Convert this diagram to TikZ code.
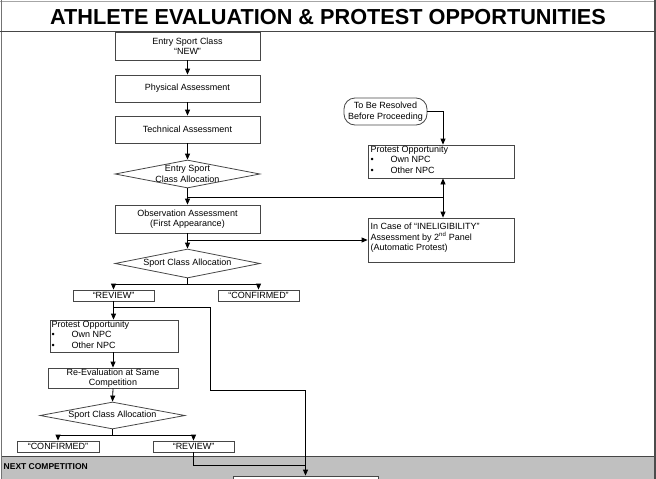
\documentclass[tikz,border=0pt]{standalone}
\usepackage{fontspec}
\setmainfont{Liberation Sans}
\usetikzlibrary{arrows.meta,shapes.geometric}
\definecolor{bandgray}{RGB}{192,192,192}
\definecolor{edge}{RGB}{70,70,70}
\begin{document}
\begin{tikzpicture}[x=1pt,y=-1pt,
  box/.style={draw=edge, line width=0.8pt, inner sep=1pt, align=center, font=\fontsize{9}{10.5}\selectfont},
  lbox/.style={draw=edge, line width=0.8pt, inner sep=0pt},
  dia/.style={diamond, draw=edge, line width=0.8pt, inner sep=0pt},
  txt/.style={inner sep=0pt, align=center, font=\fontsize{9}{11}\selectfont},
  ltxt/.style={inner sep=0pt, align=left, anchor=north west, font=\fontsize{9}{10.5}\selectfont},
  arr/.style={-{Triangle[length=6pt,width=5pt]}, line width=0.8pt},
  ln/.style={line width=0.8pt}
]
\useasboundingbox (0,0) rectangle (656,479);
\clip (0,0) rectangle (656,479);

% frame and title
\fill[bandgray] (1.5,456) rectangle (656,479);
\draw[edge, line width=0.8pt] (1.5,456) -- (656,456);
\draw[black!35, line width=1pt] (0,1.5) -- (656,1.5);
\draw[black!55, line width=0.8pt] (1.5,0) -- (1.5,479);
\draw[black!70, line width=2pt] (655,0) -- (655,479);
\draw[edge, line width=1pt] (0,31.5) -- (656,31.5);
\node[font=\bfseries\fontsize{21.7}{24}\selectfont, inner sep=0pt] (title) at (328,17) {ATHLETE EVALUATION \& PROTEST OPPORTUNITIES};
\node[font=\bfseries\fontsize{8.5}{10}\selectfont, inner sep=0pt, anchor=west] (nc) at (3.5,467) {NEXT COMPETITION};

% left column, first part
\node[box, minimum width=145pt, minimum height=28pt] (new) at (187.5,46) {Entry Sport Class\\“NEW”};
\node[box, minimum width=145pt, minimum height=27pt] (phys) at (187.5,88.5) {Physical Assessment};
\node[box, minimum width=145pt, minimum height=27pt] (tech) at (187.5,129.5) {Technical Assessment};
\node[dia, minimum width=145pt, minimum height=28pt] (d1) at (187.5,174) {};
\node[txt] (d1t) at (187.5,174) {Entry Sport\\Class Allocation};
\node[box, minimum width=145pt, minimum height=28pt] (obs) at (187.5,219) {Observation Assessment\\(First Appearance)};
\node[dia, minimum width=145pt, minimum height=29pt] (d2) at (187.5,263.5) {};
\node[txt] (d2t) at (187.5,263.5) {Sport Class Allocation};
\node[box, minimum width=81pt, minimum height=11pt, inner sep=0pt] (rev1) at (113.5,295.5) {“REVIEW”};
\node[box, minimum width=81pt, minimum height=11pt, inner sep=0pt] (conf1) at (258.5,295.5) {“CONFIRMED”};

% right column
\node[box, rounded corners=11pt, minimum width=83pt, minimum height=27pt, inner sep=0pt] (resolve) at (385.5,111.5) {To Be Resolved\\Before Proceeding};
\node[lbox, minimum width=146pt, minimum height=33pt] (po1) at (441,161.5) {};
\node[ltxt] (po1t) at (370.5,145.5) {Protest Opportunity\\\makebox[20pt][l]{\textbullet}Own NPC\\\makebox[20pt][l]{\textbullet}Other NPC};
\node[lbox, minimum width=146pt, minimum height=44pt] (inel) at (441,240) {};
\node[ltxt] (inelt) at (370.5,223) {In Case of “INELIGIBILITY”\\Assessment by 2\textsuperscript{nd} Panel\\(Automatic Protest)};

% left column, second part
\node[lbox, minimum width=128pt, minimum height=32pt] (po2) at (114,336) {};
\node[ltxt] (po2t) at (51.5,320.5) {Protest Opportunity\\\makebox[20pt][l]{\textbullet}Own NPC\\\makebox[20pt][l]{\textbullet}Other NPC};
\node[box, minimum width=130pt, minimum height=20pt, inner sep=0pt] (reeval) at (113,378) {Re-Evaluation at Same\\Competition};
\node[dia, minimum width=145pt, minimum height=27pt] (d3) at (112.5,415.5) {};
\node[txt] (d3t) at (112.5,415.5) {Sport Class Allocation};
\node[box, minimum width=82pt, minimum height=11pt, inner sep=0pt] (conf2) at (58,446.5) {“CONFIRMED”};
\node[box, minimum width=81pt, minimum height=11pt, inner sep=0pt] (rev2) at (193.5,446.5) {“REVIEW”};
\node[lbox, minimum width=145pt, minimum height=28pt, fill=white] (nextbox) at (305.5,490) {};

% junction coordinates
\coordinate (j1) at (187.5,197);
\coordinate (j2) at (443,197);
\coordinate (j3) at (187.5,240);
\coordinate (j4) at (187.5,284);
\coordinate (j5) at (113.5,307);
\coordinate (j6) at (210,307);
\coordinate (j7) at (210,390);
\coordinate (j8) at (305.5,390);
\coordinate (j9) at (305.5,465);
\coordinate (j10) at (112.5,435);

% connectors
\draw[arr] (new) -- (phys);
\draw[arr] (phys) -- (tech);
\draw[arr] (tech) -- (d1.north);
\draw[arr] (d1.south) -- (obs.north);
\draw[ln] (j1) -- (j2);
\draw[arr] (j2) -- (po1.south -| j2);
\draw[arr] (j2) -- (inel.north -| j2);
\draw[arr] (resolve.east) -| (po1.north -| j2);
\draw[arr] (obs.south) -- (d2.north);
\draw[arr] (j3) -- (inel.west |- j3);
\draw[ln] (d2.south) -- (j4);
\draw[arr] (j4) -| (rev1.north);
\draw[arr] (j4) -| (conf1.north);
\draw[arr] (rev1.south) -- (po2.north -| rev1.south);
\draw[ln] (j5) -- (j6) -- (j7) -- (j8) -- (j9);
\draw[arr] (j9) -- (nextbox.north);
\draw[ln] (rev2.south) |- (j9);
\draw[arr] (po2.south -| reeval.north) -- (reeval.north);
\draw[arr] (reeval.south) -- (d3.north);
\draw[ln] (d3.south) -- (j10);
\draw[arr] (j10) -| (conf2.north);
\draw[arr] (j10) -| (rev2.north);
\end{tikzpicture}
\end{document}
